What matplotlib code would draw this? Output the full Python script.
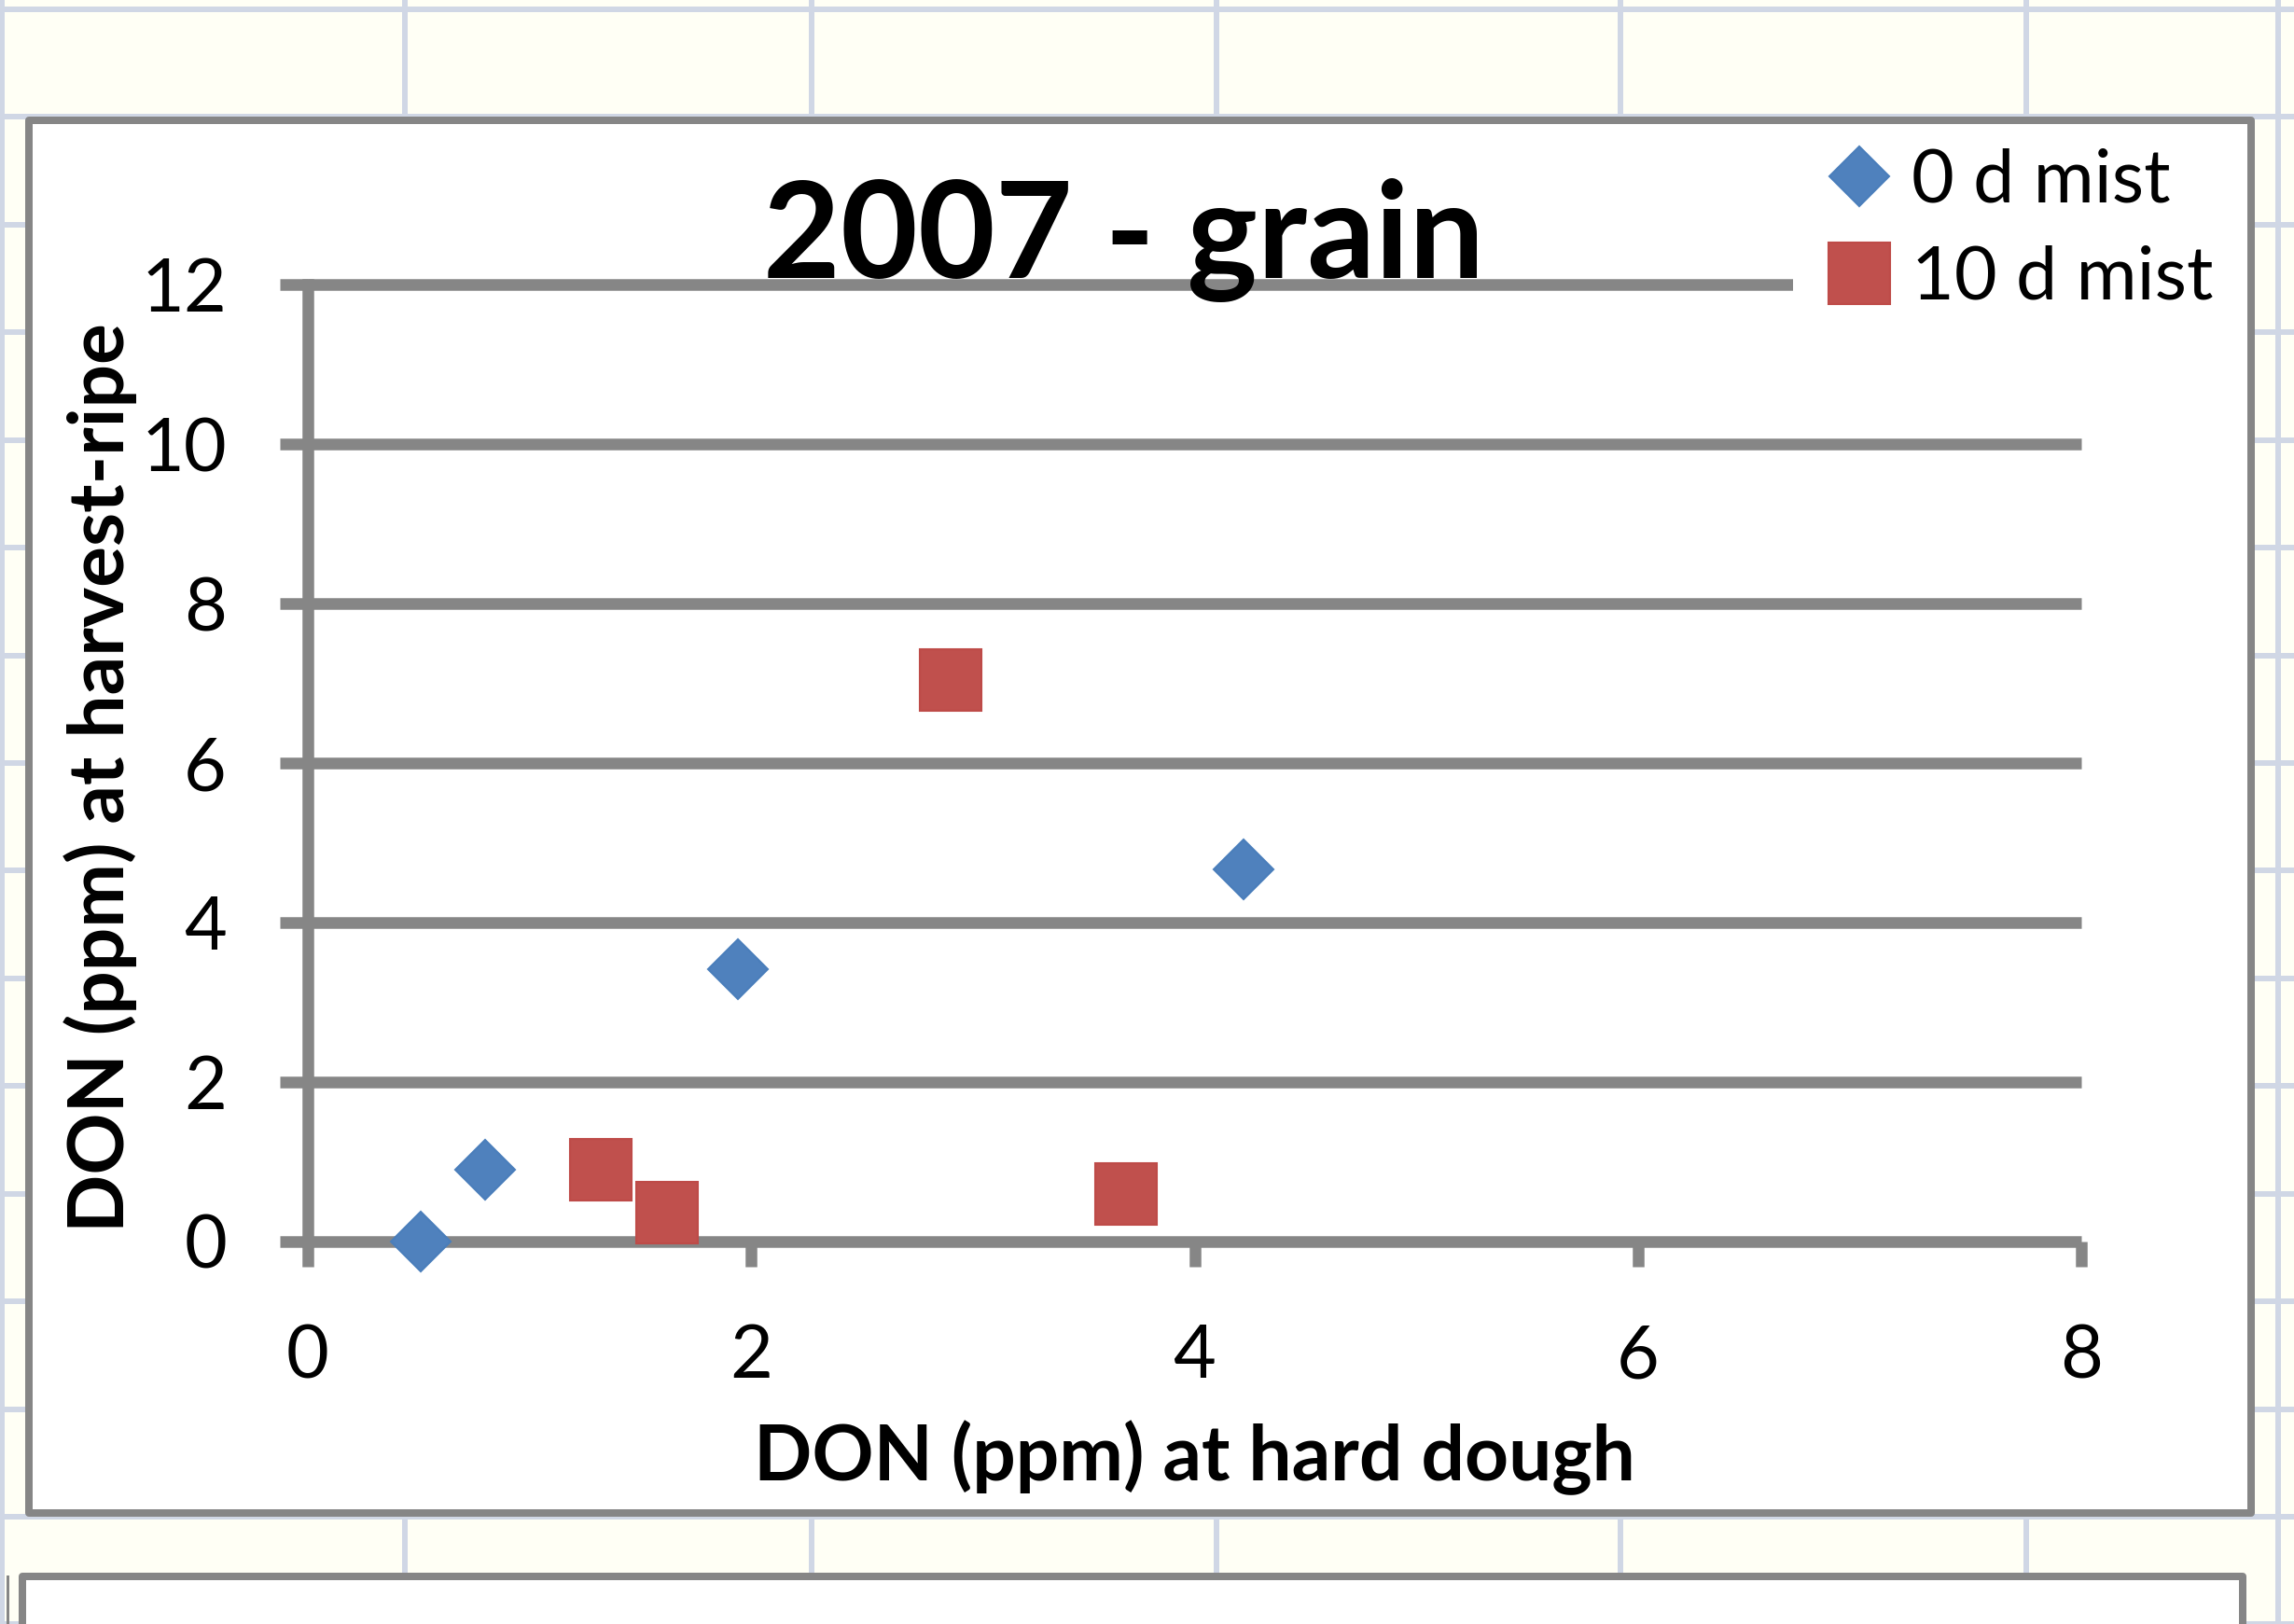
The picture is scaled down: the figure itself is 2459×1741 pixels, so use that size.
#!/usr/bin/env python3
# 2007 - grain: DON at hard dough vs harvest-ripe (Excel-style chart on a sheet)

import matplotlib.pyplot as plt
from matplotlib.patches import Rectangle
from matplotlib.lines import Line2D

W, H, DPI = 2459, 1741, 100

# data
mist0_x = [0.51, 0.80, 1.94, 4.22]
mist0_y = [0.00, 0.90, 3.41, 4.67]
mist10_x = [1.32, 1.62, 2.90, 3.69]
mist10_y = [0.90, 0.36, 7.04, 0.60]
series_names = ["0 d mist", "10 d mist"]
x_ticks = [0, 2, 4, 6, 8]
y_ticks = [0, 2, 4, 6, 8, 10, 12]
title = "2007 - grain"
x_label = "DON (ppm) at hard dough"
y_label = "DON (ppm) at harvest-ripe"

GRAY = "#868686"
BLUE = "#4F81BD"
RED = "#C0504D"
CREAM = "#FFFFF5"
CELL = "#D0D7E5"
PX = 72 / DPI  # pixels -> points

plt.rcParams["font.family"] = ["Lato", "DejaVu Sans"]


def fx(px):
    return px / W


def fy(py):
    return 1 - py / H


fig = plt.figure(figsize=(W / DPI, H / DPI), dpi=DPI)
fig.patch.set_facecolor(CREAM)

# spreadsheet behind the chart, in pixel coordinates
bg = fig.add_axes([0, 0, 1, 1], zorder=-10)
bg.set_xlim(0, W)
bg.set_ylim(H, 0)
bg.axis("off")
for cx in [2, 434, 870, 1304, 1737, 2172, 2442]:
    bg.axvline(cx, color=CELL, lw=6 * PX, zorder=1)
for k in range(16):
    bg.axhline(10 + k * 115.43, color=CELL, lw=6 * PX, zorder=1)
bg.add_patch(Rectangle((31, 129), 2413 - 31, 1622 - 129, fc="white",
                       ec=GRAY, lw=8 * PX, joinstyle="round", zorder=3))
bg.add_patch(Rectangle((24, 1690), 2404 - 24, 200, fc="white",
                       ec=GRAY, lw=8 * PX, joinstyle="round", zorder=3))
bg.plot([8, 8], [1690, H], color=GRAY, lw=3 * PX, zorder=3)

# plot area
ax = fig.add_axes([fx(330), fy(1331), (2231 - 330) / W, (1331 - 305) / H])
ax.set_xlim(0, 8)
ax.set_ylim(0, 12)
ax.patch.set_alpha(0)
for s in ["top", "right", "bottom"]:
    ax.spines[s].set_visible(False)
ax.spines["left"].set_color(GRAY)
ax.spines["left"].set_linewidth(12.5 * PX)
ax.set_xticks(x_ticks)
ax.set_yticks(y_ticks)
ax.yaxis.grid(True, color=GRAY, lw=12.5 * PX, solid_capstyle="butt")
for gl in ax.get_ygridlines():
    gl.set_clip_on(False)
ax.set_axisbelow(True)
ax.tick_params(axis="both", direction="out", color=GRAY, width=12.5 * PX,
               labelsize=57, labelcolor="black")
ax.tick_params(axis="y", length=30 * PX, pad=57 * PX)
ax.tick_params(axis="x", length=27 * PX, pad=61 * PX)

ax.plot(mist0_x, mist0_y, linestyle="none", marker="D", ms=33,
        mfc=BLUE, mec="#4A7EBB", mew=1.5, clip_on=False, zorder=4)
ax.plot(mist10_x, mist10_y, linestyle="none", marker="s", ms=47,
        mfc=RED, mec="#BE4B48", mew=1.5, clip_on=False, zorder=4)

handles = [
    Line2D([], [], linestyle="none", marker="D", ms=33, mfc=BLUE,
           mec="#4A7EBB", mew=1.5),
    Line2D([], [], linestyle="none", marker="s", ms=47, mfc=RED,
           mec="#BE4B48", mew=1.5),
]
leg = ax.legend(handles, series_names, loc="upper left",
                bbox_to_anchor=(fx(1922), fy(143)),
                bbox_transform=fig.transFigure, fontsize=57,
                frameon=True, fancybox=False, framealpha=1,
                facecolor="white", edgecolor="none", borderpad=0.2,
                borderaxespad=0, handlelength=1.4, handletextpad=0.0,
                labelspacing=0.4, numpoints=1)

fig.text(1205 / W, fy(298), title, ha="center", va="baseline",
         fontsize=103, fontweight="bold", zorder=5)
fig.text(1280 / W, fy(1587), x_label, ha="center", va="baseline",
         fontsize=59, fontweight="bold")
fig.text(133 / W, fy(834), y_label, ha="center", va="baseline",
         rotation=90, rotation_mode="anchor", fontsize=59,
         fontweight="bold")

fig.savefig("out.png", dpi=DPI, facecolor=fig.get_facecolor())
